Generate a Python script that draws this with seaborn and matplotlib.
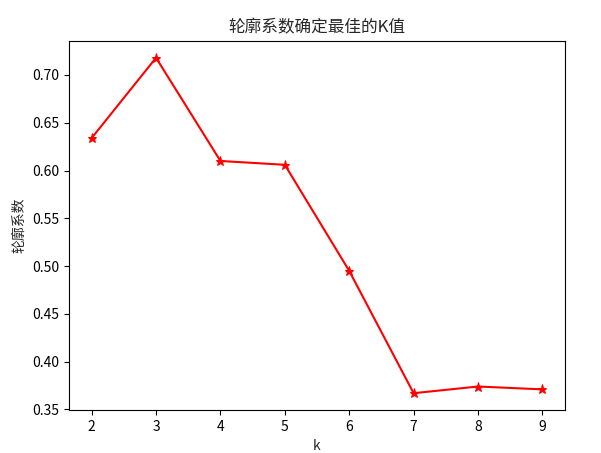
import matplotlib
matplotlib.use("Agg")
import matplotlib.pyplot as plt
import seaborn as sns
import pandas as pd

k_values = [2, 3, 4, 5, 6, 7, 8, 9]
silhouette = [0.634, 0.718, 0.610, 0.606, 0.495, 0.367, 0.374, 0.371]

sns.set_style("ticks")
plt.rcParams['font.family'] = ['Noto Sans CJK SC', 'DejaVu Sans']
plt.rcParams['axes.unicode_minus'] = False

df = pd.DataFrame({"k": k_values, "s": silhouette})

fig, ax = plt.subplots(figsize=(6.01, 4.53), dpi=100)
fig.subplots_adjust(left=0.115, right=0.940, top=0.9095, bottom=0.095)
sns.lineplot(data=df, x="k", y="s", color="red", marker="*", markersize=6.5,
             markeredgecolor="red", linewidth=1.5, ax=ax)
ax.set_xlabel("k", fontsize=10)
ax.set_ylabel("轮廓系数", fontsize=10)
ax.set_title("轮廓系数确定最佳的K值", fontsize=12)
ax.set_xticks(k_values)
ax.set_yticks([0.35, 0.40, 0.45, 0.50, 0.55, 0.60, 0.65, 0.70])
ax.set_yticklabels(["0.35", "0.40", "0.45", "0.50", "0.55", "0.60", "0.65", "0.70"])
for s in ax.spines.values():
    s.set_visible(True)
    s.set_color("black")
    s.set_linewidth(0.8)
ax.tick_params(colors="black", labelsize=10)
fig.savefig("out.png", dpi=100)
